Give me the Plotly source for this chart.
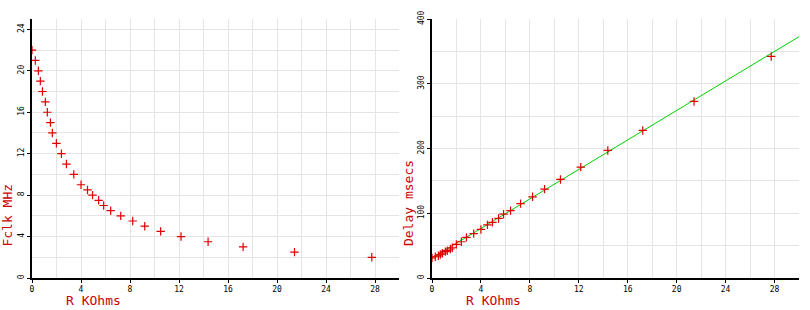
import plotly.graph_objects as go

# ---- data ----
r_kohms = [0, 0.27, 0.52, 0.68, 0.85, 1.09, 1.25, 1.5, 1.66, 1.99, 2.4, 2.81, 3.41, 4.0,
           4.53, 4.94, 5.44, 5.85, 6.42, 7.24, 8.22, 9.2, 10.5, 12.16, 14.37, 17.23, 21.42, 27.73]
fclk_mhz = [22, 21, 20, 19, 18, 17, 16, 15, 14, 13, 12, 11, 10, 9,
            8.5, 8, 7.5, 7, 6.5, 6, 5.5, 5, 4.5, 4, 3.5, 3, 2.5, 2]
delay_ms = [30.9, 32.8, 34.3, 36.3, 38.3, 40.8, 42.2, 44.8, 46.7, 52, 56, 62.7, 68.6, 75,
            82, 86, 92, 98.5, 104, 114.9, 125.4, 137.3, 152.2, 171.2, 197, 227.9, 272.7, 342.2]
fit_r = [0, 30]
fit_delay = [31, 372.7]

x_ticks = [0, 4, 8, 12, 16, 20, 24, 28]
fclk_ticks = [0, 4, 8, 12, 16, 20, 24]
delay_ticks = [0, 100, 200, 300, 400]

# ---- layout geometry ----
W, H = 810, 310
ML, MR, MT, MB = 32, 11, 10, 32
PW = W - ML - MR
PH = H - MT - MB

def px_x(px):
    return (px - ML) / PW

def px_y(py):
    return (H - MB - py) / PH

RED = "#e00000"
TITLE_RED = "#cc0000"
GREEN = "#00d000"
GRID = "#e4e4e4"
TICKFONT = dict(family="DejaVu Sans Mono", size=8, color="black")
TITLEFONT = dict(family="DejaVu Sans Mono", size=13, color=TITLE_RED)

fig = go.Figure()

marker = dict(symbol="cross-thin", size=6, line=dict(color=RED, width=1.2), color=RED)

fig.add_trace(go.Scatter(x=r_kohms, y=fclk_mhz, mode="markers", marker=marker,
                         xaxis="x", yaxis="y", showlegend=False))
fig.add_trace(go.Scatter(x=fit_r, y=fit_delay, mode="lines",
                         line=dict(color=GREEN, width=1), xaxis="x2", yaxis="y2",
                         showlegend=False))
fig.add_trace(go.Scatter(x=r_kohms, y=delay_ms, mode="markers", marker=marker,
                         xaxis="x2", yaxis="y2", showlegend=False))

left_dom = [0, px_x(399)]
right_dom = [px_x(432), 1]

common_x = dict(tickvals=x_ticks, ticks="outside", ticklen=3, tickwidth=1, tickcolor="black",
                showline=True, linecolor="black", linewidth=1.5, showgrid=True, gridcolor=GRID,
                gridwidth=1, zeroline=False, tickfont=TICKFONT,
                minor=dict(dtick=2, tick0=0, showgrid=True, gridcolor=GRID, gridwidth=1, ticks=""),
                fixedrange=True)
common_y = dict(ticks="outside", ticklen=3, tickwidth=1, tickcolor="black",
                showline=True, linecolor="black", linewidth=1.5, showgrid=True, gridcolor=GRID,
                gridwidth=1, zeroline=False, tickfont=TICKFONT, tickangle=-90, fixedrange=True)

fig.update_layout(
    width=W, height=H,
    margin=dict(l=ML, r=MR, t=MT, b=MB, pad=0),
    paper_bgcolor="white", plot_bgcolor="white",
    xaxis=dict(domain=left_dom, range=[0, 29.95], anchor="y", **common_x),
    yaxis=dict(domain=[0, 1], range=[0, 25], anchor="x", tickvals=fclk_ticks,
               minor=dict(dtick=2, tick0=0, showgrid=True, gridcolor=GRID, gridwidth=1, ticks=""),
               **common_y),
    xaxis2=dict(domain=right_dom, range=[0, 30], anchor="y2", **common_x),
    yaxis2=dict(domain=[0, 1], range=[0, 400], anchor="x2", tickvals=delay_ticks,
                minor=dict(dtick=50, tick0=0, showgrid=True, gridcolor=GRID, gridwidth=1, ticks=""),
                **common_y),
    annotations=[
        dict(text="R KOhms", xref="paper", yref="paper", x=px_x(64), y=px_y(301),
             xanchor="left", yanchor="middle", showarrow=False, font=TITLEFONT),
        dict(text="R KOhms", xref="paper", yref="paper", x=px_x(464), y=px_y(301),
             xanchor="left", yanchor="middle", showarrow=False, font=TITLEFONT),
        dict(text="Fclk MHz", xref="paper", yref="paper", x=px_x(8), y=px_y(247),
             xanchor="center", yanchor="bottom", textangle=-90, showarrow=False, font=TITLEFONT),
        dict(text="Delay msecs", xref="paper", yref="paper", x=px_x(408), y=px_y(247),
             xanchor="center", yanchor="bottom", textangle=-90, showarrow=False, font=TITLEFONT),
    ],
)

fig.write_html("out.html", config={"displayModeBar": False})
